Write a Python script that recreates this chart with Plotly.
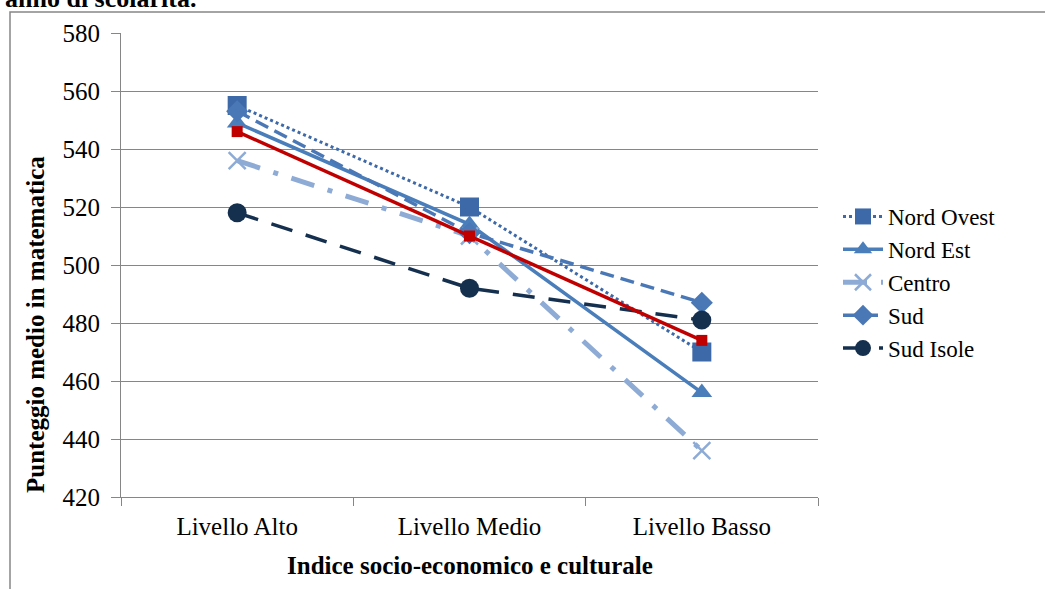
import plotly.graph_objects as go

categories = ["Livello Alto", "Livello Medio", "Livello Basso"]
nord_ovest = [555, 520, 470]
nord_est = [549, 514, 456]
centro = [536, 510, 436]
sud = [553, 511, 487]
sud_isole = [518, 492, 481]
italia = [546, 510, 474]

W, H = 1045, 589
L, R, T, B = 121, 818, 33, 497

def px(x):
    return (x - L) / (R - L)

def py(y):
    return (B - y) / (B - T)

fig = go.Figure()

series = [
    ("Nord Ovest", nord_ovest, "#3D69A9", "dot", 3, "square", 19, True),
    ("Nord Est", nord_est, "#4A7EBB", "solid", 3.5, "triangle-up", 18, True),
    ("Centro", centro, "#8DABD5", "24px,14px,5px,14px", 5, "x-thin-open", 17, True),
    ("Sud", sud, "#4A78B6", "14px,7px", 3.5, "diamond", 17, True),
    ("Sud Isole", sud_isole, "#152F4E", "22px,14px", 3.5, "circle", 19, True),
    ("Italia", italia, "#C00000", "solid", 3.5, "square", 11, False),
]

for name, vals, color, dash, w, sym, size, show in series:
    marker = dict(symbol=sym, size=size, color=color)
    if sym == "x-thin-open":
        marker["line"] = dict(color=color, width=2.5)
    fig.add_trace(go.Scatter(
        x=categories, y=vals, name=name, mode="lines+markers",
        line=dict(color=color, width=w, dash=dash),
        marker=marker, showlegend=show,
    ))

serif = "Liberation Serif"

fig.update_layout(
    width=W, height=H,
    margin=dict(l=L, r=W - R, t=T, b=H - B, autoexpand=False),
    paper_bgcolor="white", plot_bgcolor="white",
    font=dict(family=serif, size=25, color="black"),
    showlegend=True,
    legend=dict(x=px(838), y=py(195), xanchor="left", yanchor="top",
                font=dict(family=serif, size=23, color="black"),
                tracegroupgap=0, itemwidth=40, bgcolor="rgba(0,0,0,0)"),
    xaxis=dict(
        type="category", range=[-0.5, 2.5],
        showline=True, linecolor="#868686", linewidth=1,
        ticks="outside", tickson="boundaries", ticklen=8, tickcolor="#868686",
        showgrid=False, ticklabelstandoff=7,
        tickfont=dict(family=serif, size=25, color="black"),
    ),
    yaxis=dict(
        range=[420, 580], dtick=20, tick0=420,
        showline=True, linecolor="#868686", linewidth=1,
        ticks="outside", ticklen=9, tickcolor="#868686",
        showgrid=True, gridcolor="#868686", gridwidth=1,
        zeroline=False, ticklabelstandoff=6,
        tickfont=dict(family=serif, size=25, color="black"),
    ),
    shapes=[dict(type="rect", xref="paper", yref="paper",
                 x0=px(10), x1=px(1060), y0=py(600), y1=py(12),
                 line=dict(color="#868686", width=1.5), fillcolor="rgba(0,0,0,0)",
                 layer="below")],
    annotations=[
        dict(text="<b>anno di scolarità.</b>", xref="paper", yref="paper",
             x=px(3), y=py(15), xanchor="left", yanchor="bottom",
             showarrow=False, font=dict(family=serif, size=26, color="black")),
        dict(text="<b>Indice socio-economico e culturale</b>", xref="paper", yref="paper",
             x=px(470), y=py(565), xanchor="center", yanchor="middle",
             showarrow=False, font=dict(family=serif, size=25, color="black")),
        dict(text="<b>Punteggio medio in matematica</b>", xref="paper", yref="paper",
             x=px(35), y=py(325), xanchor="center", yanchor="middle", textangle=-90,
             showarrow=False, font=dict(family=serif, size=25, color="black")),
    ],
)

fig.write_html("out.html", config={"displayModeBar": False},
               post_script="document.body.style.margin='0px';")
